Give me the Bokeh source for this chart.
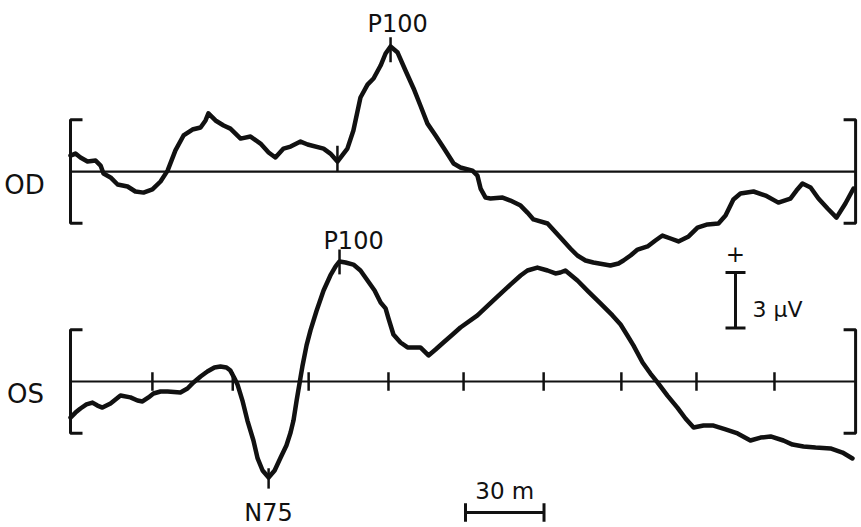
from bokeh.plotting import figure
from bokeh.models import Range1d
from bokeh.embed import file_html
from bokeh.resources import INLINE
from bokeh.core.properties import value

# ---------------- data (latency in ms, amplitude in microvolts) ----------------
od_t = [0, 1.9, 3.8, 6.5, 9.6, 11.5, 12.6, 15.3, 18.0, 21.8, 24.8, 27.9, 31.3, 34.4, 37.1,
        40.1, 43.2, 46.6, 49.7, 51.6, 52.7, 55.4, 58.5, 61.1, 65.0, 68.8, 72.6, 75.7, 78.3,
        81.4, 84.1, 87.9, 90.6, 96.7, 99.3, 102.0, 105.8, 108.1, 110.8, 113.5, 115.8, 118.5,
        120.4, 122.3, 125.0, 128.0, 131.1, 133.7, 136.4, 139.5, 142.5, 146.4, 149.0, 153.6,
        155.5, 156.7, 158.6, 160.5, 165.1, 168.1, 172.0, 174.6, 176.9, 182.3, 187.2, 191.0,
        193.7, 196.8, 199.8, 206.3, 209.4, 211.3, 214.0, 216.7, 220.5, 223.5, 226.2, 229.3,
        232.3, 236.2, 239.6, 243.4, 247.6, 250.3, 253.3, 256.0, 261.0, 265.6, 270.5, 275.1,
        277.4, 279.7, 282.8, 285.8, 289.3, 292.7, 296.1, 299.2]
od_v = [0.86, 0.97, 0.76, 0.54, 0.59, 0.32, -0.11, -0.32, -0.70, -0.81, -1.08, -1.14, -0.97,
        -0.54, 0.05, 1.14, 1.95, 2.27, 2.38, 2.76, 3.14, 2.76, 2.49, 2.32, 1.78, 1.89, 1.51,
        1.03, 0.76, 1.24, 1.35, 1.62, 1.46, 1.24, 0.97, 0.54, 1.24, 2.22, 4.0, 4.7, 5.03, 5.73,
        6.38, 6.76, 6.43, 5.46, 4.49, 3.57, 2.59, 1.95, 1.30, 0.43, 0.22, 0.05, -0.22, -0.92,
        -1.41, -1.46, -1.41, -1.57, -1.84, -2.22, -2.59, -2.81, -3.57, -4.16, -4.54, -4.81,
        -4.92, -5.08, -4.97, -4.81, -4.54, -4.22, -4.05, -3.73, -3.46, -3.62, -3.78, -3.51,
        -3.03, -2.86, -2.81, -2.38, -1.51, -1.19, -1.08, -1.30, -1.68, -1.46, -1.03, -0.65,
        -0.86, -1.46, -2.0, -2.49, -1.73, -0.92]

os_t = [0, 1.9, 3.8, 6.1, 8.4, 10.3, 12.2, 15.3, 19.1, 22.9, 25.6, 27.5, 29.8, 31.7, 34.4,
        37.1, 42.0, 44.7, 47.0, 49.7, 52.3, 55.0, 57.3, 59.6, 61.1, 62.7, 63.8, 65.7, 67.6,
        69.9, 71.5, 73.4, 75.7, 78.0, 80.3, 82.5, 84.1, 85.2, 86.4, 87.9, 88.6, 90.2, 91.7,
        94.0, 96.7, 99.3, 101.3, 102.8, 105.1, 108.1, 110.8, 113.5, 116.2, 118.5, 120.4, 121.5,
        123.4, 126.1, 128.8, 131.4, 133.7, 136.8, 139.5, 142.5, 146.0, 149.0, 155.5, 161.6,
        168.1, 172.0, 174.6, 178.4, 182.3, 185.3, 187.2, 189.1, 193.7, 197.9, 202.5, 207.1,
        210.2, 212.8, 215.1, 218.6, 221.6, 224.3, 228.1, 231.9, 235.0, 238.1, 241.9, 245.7,
        250.3, 254.9, 259.8, 263.7, 267.5, 272.4, 275.9, 280.1, 284.7, 290.4, 295.0, 298.8]
os_v = [-1.95, -1.68, -1.46, -1.24, -1.14, -1.30, -1.41, -1.19, -0.76, -0.86, -1.03, -1.08,
        -0.86, -0.65, -0.54, -0.54, -0.59, -0.38, -0.05, 0.27, 0.54, 0.76, 0.81, 0.76, 0.59,
        0.16, -0.16, -1.03, -2.11, -3.19, -4.16, -4.81, -5.19, -4.81, -4.11, -3.46, -2.76,
        -2.11, -1.03, 0.22, 0.81, 1.95, 2.76, 3.81, 4.92, 5.73, 6.22, 6.49, 6.43, 6.32, 6.0,
        5.46, 4.92, 4.27, 3.95, 3.41, 2.54, 2.11, 1.84, 1.84, 1.84, 1.41, 1.73, 2.11, 2.54,
        2.92, 3.57, 4.38, 5.24, 5.73, 6.0, 6.16, 6.0, 5.84, 5.89, 6.0, 5.46, 4.86, 4.22, 3.57,
        3.08, 2.49, 1.95, 1.03, 0.43, -0.05, -0.76, -1.41, -2.0, -2.49, -2.38, -2.38, -2.59,
        -2.81, -3.19, -3.03, -2.97, -3.19, -3.41, -3.51, -3.57, -3.62, -3.84, -4.16]

sweep_ms = [0, 300]
tick_ms = [31.3, 62.0, 91.0, 121.5, 150.2, 180.8, 210.5, 239.2, 269.0]
od_onset_ms = 102.0          # marked start of the OD P100 deflection
bracket_uv = 2.8             # half height of the trace brackets
od_offset_uv = 11.35         # vertical offset of the OD trace
scale_uv = 3
scale_ms = 30
trace_names = ["OD", "OS"]
peak_names = ["P100", "P100", "N75"]

# ---------------- layout helpers (reference pixel -> data) ----------------
PX0, PXMS, PY0, PYUV = 70.0, 2.617, 381.0, 18.5
def tx(px):
    return (px - PX0) / PXMS
def vy(py):
    return (PY0 - py) / PYUV

W, H = 861, 527
p = figure(width=W, height=H, output_backend="svg", toolbar_location=None,
           x_range=Range1d(tx(0), tx(W)), y_range=Range1d(vy(H), vy(0)),
           x_axis_type=None, y_axis_type=None, min_border=0,
           outline_line_color=None, background_fill_color="white",
           border_fill_color="white")
p.grid.visible = False

BLK = "#111111"
FONT = value("DejaVu Sans")
WEIGHT = "normal"

od_plot = [v + od_offset_uv for v in od_v]

# baselines
for off in (od_offset_uv, 0):
    p.line(sweep_ms, [off, off], line_color=BLK, line_width=2.2)

# brackets
serif = tx(82) - tx(70)
for off in (od_offset_uv, 0):
    p.line([sweep_ms[0] + serif, sweep_ms[0], sweep_ms[0], sweep_ms[0] + serif],
           [off + bracket_uv, off + bracket_uv, off - bracket_uv, off - bracket_uv],
           line_color=BLK, line_width=3)
    p.line([sweep_ms[1] - serif, sweep_ms[1], sweep_ms[1], sweep_ms[1] - serif],
           [off + bracket_uv, off + bracket_uv, off - bracket_uv, off - bracket_uv],
           line_color=BLK, line_width=3)

# time ticks on OS baseline
p.segment(x0=tick_ms, y0=[0.5] * len(tick_ms), x1=tick_ms, y1=[-0.5] * len(tick_ms),
          line_color=BLK, line_width=2.5)

# traces
p.line(od_t, od_plot, line_color=BLK, line_width=4.5, line_join="round", line_cap="round")
p.line(os_t, os_v, line_color=BLK, line_width=4.5, line_join="round", line_cap="round")

# peak markers
i_od = max(range(len(od_v)), key=lambda i: od_v[i])
i_os_p = max(range(len(os_v)), key=lambda i: os_v[i] if os_t[i] < 130 else -99)
i_os_n = min(range(len(os_v)), key=lambda i: os_v[i])
i_on = od_t.index(od_onset_ms)
mk_x0 = [od_t[i_od], od_t[i_on], os_t[i_os_p], os_t[i_os_n]]
mk_y0 = [od_plot[i_od] + 0.5, od_plot[i_on] + 0.85, os_v[i_os_p] + 0.65, os_v[i_os_n] + 0.5]
mk_y1 = [od_plot[i_od] - 0.85, od_offset_uv, os_v[i_os_p] - 0.7, os_v[i_os_n] - 0.6]
p.segment(x0=mk_x0, y0=mk_y0, x1=mk_x0, y1=mk_y1, line_color=BLK, line_width=2.5)

# labels
p.text(x=[od_t[i_od] + tx(397) - tx(390), os_t[i_os_p] + tx(353) - tx(339), os_t[i_os_n]],
       y=[vy(23), vy(240), vy(512)], text=peak_names,
       text_font=FONT, text_font_size="24px", text_font_style=WEIGHT, text_align="center",
       text_baseline="alphabetic", text_color=BLK)
p.text(x=[tx(24), tx(25)], y=[vy(184), vy(393)], text=trace_names,
       text_font=FONT, text_font_size="26px", text_font_style=WEIGHT, text_align="center",
       text_baseline="alphabetic", text_color=BLK)

# voltage scale bar
sx = tx(735)
stop = vy(272)
sw = tx(745) - tx(735)
p.segment(x0=[sx, sx - sw, sx - sw], y0=[stop, stop, stop - scale_uv],
          x1=[sx, sx + sw, sx + sw], y1=[stop - scale_uv, stop, stop - scale_uv],
          line_color=BLK, line_width=3)
p.text(x=[sx], y=[vy(253)], text=["+"], text_font=FONT, text_font_size="23px",
       text_font_style=WEIGHT, text_align="center", text_baseline="middle", text_color=BLK)
p.text(x=[tx(752)], y=[vy(309)], text=[f"{scale_uv} \u00b5V"], text_font=FONT,
       text_font_size="22px", text_font_style=WEIGHT, text_align="left",
       text_baseline="alphabetic", text_color=BLK)

# time scale bar
tx0 = tx(465)
ty = vy(512)
th = 0.5
p.segment(x0=[tx0, tx0, tx0 + scale_ms], y0=[ty, ty + th, ty + th],
          x1=[tx0 + scale_ms, tx0, tx0 + scale_ms], y1=[ty, ty - th, ty - th],
          line_color=BLK, line_width=3)
p.text(x=[tx0 + scale_ms / 2], y=[vy(490)], text=[f"{scale_ms} m"], text_font=FONT,
       text_font_size="23px", text_font_style=WEIGHT, text_align="center",
       text_baseline="alphabetic", text_color=BLK)

open("out.html", "w").write(file_html(p, INLINE))
